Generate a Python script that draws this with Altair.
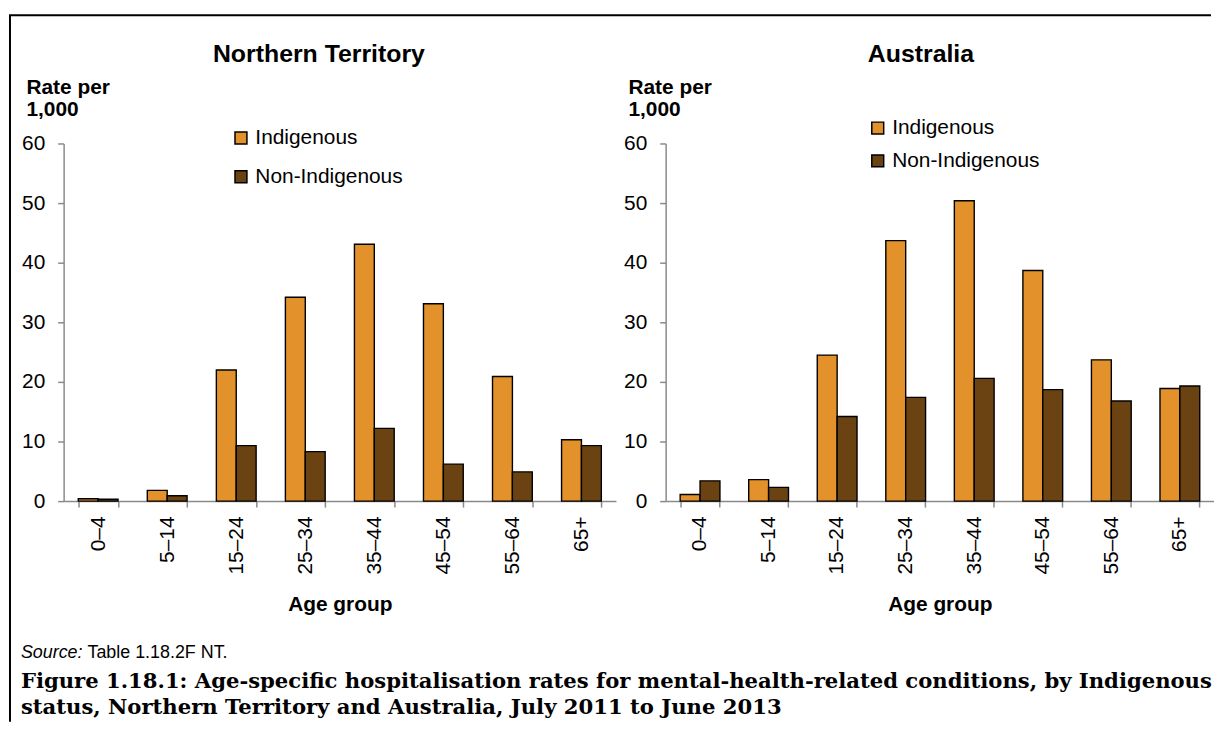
import altair as alt
import pandas as pd

ages = ["0–4", "5–14", "15–24", "25–34", "35–44", "45–54", "55–64", "65+"]
statuses = ["Indigenous", "Non-Indigenous"]
colors = ["#E3912A", "#6B4312"]

nt_ind = [0.4, 1.8, 22.0, 34.2, 43.1, 33.1, 20.9, 10.3]
nt_non = [0.3, 0.9, 9.3, 8.3, 12.2, 6.2, 4.9, 9.3]
au_ind = [1.1, 3.6, 24.5, 43.7, 50.4, 38.7, 23.7, 18.9]
au_non = [3.4, 2.3, 14.2, 17.4, 20.6, 18.7, 16.8, 19.3]

y_ticks = [0, 10, 20, 30, 40, 50, 60]
y_title = ["Rate per", "1,000"]
x_title = "Age group"
panel_titles = ["Northern Territory", "Australia"]
source_label = "Source:"
source_text = "Table 1.18.2F NT."
caption = ("Figure 1.18.1: Age-specific hospitalisation rates for mental-health-related conditions, by Indigenous\n"
           "status, Northern Territory and Australia, July 2011 to June 2013")

SANS = "Liberation Sans"
SERIF = "DejaVu Serif"
AXIS_GREY = "#8a8a8a"
H = 360


def panel(title, ind, non, lx, ly, row_pad):
    df = pd.DataFrame({
        "age": ages * 2,
        "status": [statuses[0]] * len(ages) + [statuses[1]] * len(ages),
        "rate": ind + non,
    })
    bars = alt.Chart(df).mark_bar(stroke="black", strokeWidth=1.4).encode(
        x=alt.X("age:N", sort=ages,
                scale=alt.Scale(paddingInner=0.424, paddingOuter=0.212),
                axis=alt.Axis(title=x_title, labelAngle=270, tickBand="extent",
                              labelFont=SANS, labelFontSize=21, labelColor="black",
                              labelPadding=9, tickSize=6, tickColor=AXIS_GREY, tickWidth=1.5,
                              domainColor=AXIS_GREY, domainWidth=1.5, labelLimit=0,
                              titleFont=SANS, titleFontSize=21, titleFontWeight="bold",
                              titleColor="black", titleY=104, titleBaseline="middle")),
        xOffset=alt.XOffset("status:N", sort=statuses,
                            scale=alt.Scale(paddingInner=0, paddingOuter=0)),
        y=alt.Y("rate:Q", scale=alt.Scale(domain=[0, 60], nice=False),
                axis=alt.Axis(values=y_ticks, grid=False, title=y_title,
                              labelFont=SANS, labelFontSize=21, labelColor="black",
                              labelPadding=13, tickSize=6, tickColor=AXIS_GREY, tickWidth=1.5,
                              domainColor=AXIS_GREY, domainWidth=1.5,
                              titleFont=SANS, titleFontSize=21, titleFontWeight="bold",
                              titleColor="black", titleAngle=0, titleAlign="left",
                              titleBaseline="top", titleX=-38, titleY=-67,
                              titleLineHeight=22)),
        color=alt.Color("status:N", sort=statuses,
                        scale=alt.Scale(domain=statuses, range=colors),
                        legend=alt.Legend(title=None, orient="none", legendX=lx, legendY=ly,
                                          symbolType="square", symbolSize=144,
                                          symbolStrokeColor="black", symbolStrokeWidth=1.5,
                                          labelFont=SANS, labelFontSize=21, labelColor="black",
                                          labelOffset=4, rowPadding=row_pad, padding=0)),
    )
    ttl = alt.Chart(pd.DataFrame({"t": [title]})).mark_text(
        font=SANS, fontSize=25, fontWeight="bold", color="black",
        align="center", baseline="middle").encode(
        text="t:N", x=alt.value(257), y=alt.value(-90))
    return [bars, ttl]


one = pd.DataFrame({"k": [0]})
cap_df = pd.DataFrame({"src": [source_label], "txt": [source_text], "cap": [caption]})

frame_v = alt.Chart(one).mark_rule(color="black", strokeWidth=2).encode(
    x=alt.value(-54), y=alt.value(-129), y2=alt.value(582))
frame_h = alt.Chart(one).mark_rule(color="black", strokeWidth=2).encode(
    x=alt.value(-55), x2=alt.value(1155), y=alt.value(-129))
src1 = alt.Chart(cap_df).mark_text(font=SANS, fontSize=18, fontStyle="italic", align="left",
                                   baseline="middle", color="black").encode(
    text="src:N", x=alt.value(-43), y=alt.value(513))
src2 = alt.Chart(cap_df).mark_text(font=SANS, fontSize=18, align="left",
                                   baseline="middle", color="black").encode(
    text="txt:N", x=alt.value(24), y=alt.value(513))
cap = alt.Chart(cap_df).mark_text(font=SERIF, fontSize=21.3, fontWeight="bold", align="left",
                                  baseline="middle", color="black", lineBreak="\n",
                                  lineHeight=26).encode(
    text="cap:N", x=alt.value(-43), y=alt.value(542))

left = alt.layer(*panel(panel_titles[0], nt_ind, nt_non, 168, -16, 17),
                 frame_v, frame_h, src1, src2, cap).properties(width=556, height=H)
right = alt.layer(*panel(panel_titles[1], au_ind, au_non, 203, -26, 11)).properties(
    width=552, height=H)

chart = alt.hconcat(left, right, spacing=50, bounds="flush").resolve_legend(
    color="independent").properties(
    padding={"left": 0, "top": 4, "right": 0, "bottom": 0},
    background="white",
).configure_view(stroke=None)

chart.save("out.html", embed_options={"renderer": "svg", "actions": False})
